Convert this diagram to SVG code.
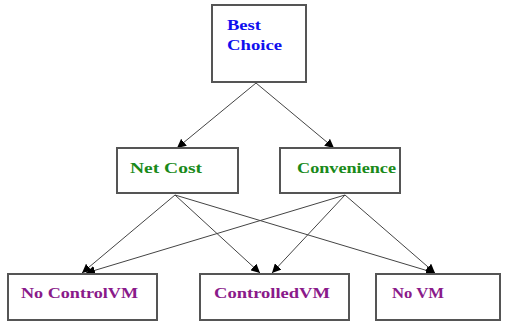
<svg xmlns="http://www.w3.org/2000/svg" width="508" height="323" viewBox="0 0 508 323">
<style>
.box{fill:#fff;stroke:#555;stroke-width:2}
.t{font-family:"Liberation Serif",serif;font-weight:bold;font-size:14px}
.blue{fill:#1010ee}
.green{fill:#1a8a1a}
.purple{fill:#8a1a8a}
.e{stroke:#444;stroke-width:1;fill:none;marker-end:url(#ah)}
</style>
<defs>
<marker id="ah" viewBox="0 0 10 10" refX="10" refY="5" markerWidth="9" markerHeight="9" markerUnits="userSpaceOnUse" orient="auto">
<path d="M0,0 L10,5 L0,10 z" fill="#000"/>
</marker>
</defs>
<rect width="508" height="323" fill="#fff"/>
<g id="connectors">
<line class="e" x1="256" y1="83" x2="177" y2="148"/>
<line class="e" x1="256" y1="83" x2="334" y2="148"/>
<line class="e" x1="175" y1="195" x2="82" y2="273"/>
<line class="e" x1="175" y1="195" x2="260" y2="273"/>
<line class="e" x1="175" y1="195" x2="435" y2="273"/>
<line class="e" x1="345" y1="195" x2="86" y2="273"/>
<line class="e" x1="345" y1="195" x2="272" y2="273"/>
<line class="e" x1="345" y1="195" x2="435" y2="273"/>
</g>
<g id="best">
<rect class="box" x="212" y="5" width="94" height="77"/>
<text class="t blue" x="227" y="30" textLength="34" lengthAdjust="spacingAndGlyphs">Best</text>
<text class="t blue" x="227" y="50" textLength="55" lengthAdjust="spacingAndGlyphs">Choice</text>
</g>
<g id="netcost">
<rect class="box" x="117" y="148" width="121" height="45"/>
<text class="t green" x="130" y="173" textLength="72" lengthAdjust="spacingAndGlyphs">Net Cost</text>
</g>
<g id="convenience">
<rect class="box" x="280" y="148" width="120" height="45"/>
<text class="t green" x="297" y="173" textLength="99" lengthAdjust="spacingAndGlyphs">Convenience</text>
</g>
<g id="nocontrolvm">
<rect class="box" x="8" y="274" width="149" height="46"/>
<text class="t purple" x="21" y="298" textLength="117" lengthAdjust="spacingAndGlyphs">No ControlVM</text>
</g>
<g id="controlledvm">
<rect class="box" x="200" y="274" width="149" height="46"/>
<text class="t purple" x="214" y="298" textLength="116" lengthAdjust="spacingAndGlyphs">ControlledVM</text>
</g>
<g id="novm">
<rect class="box" x="376" y="274" width="124" height="46"/>
<text class="t purple" x="392" y="298" textLength="52" lengthAdjust="spacingAndGlyphs">No VM</text>
</g>
</svg>
